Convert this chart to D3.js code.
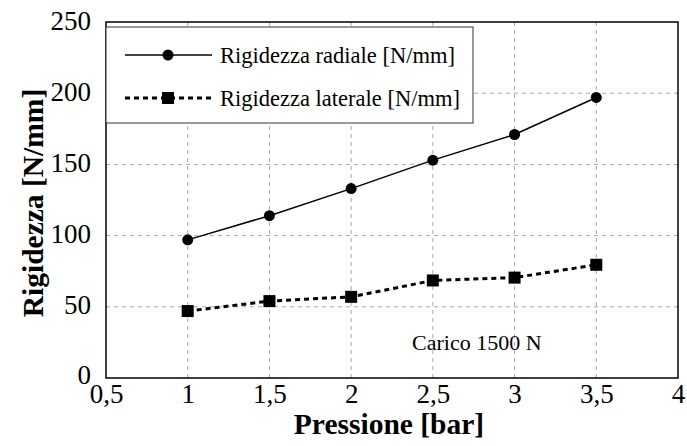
<!DOCTYPE html>
<html>
<head>
<meta charset="utf-8">
<script src="https://cdn.jsdelivr.net/npm/d3@7"></script>
<style>
  html, body { margin: 0; padding: 0; background: #fff; }
  svg { display: block; }
  svg text { font-family: "Liberation Serif", "Tinos", "Times New Roman", Times, "DejaVu Serif", serif !important; fill: #000; }
</style>
</head>
<body>
<svg id="chart" width="687" height="446"></svg>
<script>
// Pressure levels [bar]
const pressures = [1, 1.5, 2, 2.5, 3, 3.5];
// Radial and lateral stiffness [N/mm]
const radialStiffness = [97, 114, 133, 153, 171, 197];
const lateralStiffness = [47, 54, 57, 68.5, 70.5, 79.5];
// Axis ticks
const xTicks = [0.5, 1, 1.5, 2, 2.5, 3, 3.5, 4];
const yTicks = [0, 50, 100, 150, 200, 250];
const seriesNames = ["Rigidezza radiale [N/mm]", "Rigidezza laterale [N/mm]"];

const svg = d3.select("#chart");
const m = { left: 106, right: 678, top: 22, bottom: 378 };

const x = d3.scaleLinear().domain([0.5, 4]).range([m.left, m.right]);
const y = d3.scaleLinear().domain([0, 250]).range([m.bottom, m.top]);
const fmt = d => String(d).replace(".", ",");

// Dashed grid
const grid = svg.append("g").attr("stroke", "#a8a8a8").attr("stroke-width", 1)
  .attr("stroke-dasharray", "4,4");
grid.selectAll(".gx").data(xTicks.filter(t => t > 0.5 && t < 4)).join("line")
  .attr("x1", d => x(d)).attr("x2", d => x(d))
  .attr("y1", m.top).attr("y2", m.bottom);
grid.selectAll(".gy").data(yTicks.filter(t => t > 0 && t < 250)).join("line")
  .attr("x1", m.left).attr("x2", m.right)
  .attr("y1", d => y(d)).attr("y2", d => y(d));

// Axes
const xAxis = svg.append("g").attr("transform", `translate(0,${m.bottom})`)
  .call(d3.axisBottom(x).tickValues(xTicks).tickFormat(fmt).tickSize(0).tickPadding(0));
const yAxis = svg.append("g").attr("transform", `translate(${m.left},0)`)
  .call(d3.axisLeft(y).tickValues(yTicks).tickSize(0).tickPadding(15));
[xAxis, yAxis].forEach(a => {
  a.select(".domain").remove();
  a.selectAll("text").attr("font-size", 27);
});
// baseline positions relative to each tick
yAxis.selectAll(".tick text").attr("dy", null).attr("y", d => (d === 0 ? 5 : 7));
xAxis.selectAll(".tick text").attr("dy", null).attr("y", 25);

// Plot frame
svg.append("rect")
  .attr("x", m.left).attr("y", m.top)
  .attr("width", m.right - m.left).attr("height", m.bottom - m.top)
  .attr("fill", "none").attr("stroke", "#000").attr("stroke-width", 1.5);

// Series
const line = d3.line().x(d => x(d[0])).y(d => y(d[1]));
const radial = pressures.map((p, i) => [p, radialStiffness[i]]);
const lateral = pressures.map((p, i) => [p, lateralStiffness[i]]);

svg.append("path").datum(radial).attr("d", line)
  .attr("fill", "none").attr("stroke", "#000").attr("stroke-width", 1.5);
svg.selectAll(".rad").data(radial).join("circle")
  .attr("cx", d => x(d[0])).attr("cy", d => y(d[1])).attr("r", 5.5).attr("fill", "#000");

svg.append("path").datum(lateral).attr("d", line)
  .attr("fill", "none").attr("stroke", "#000").attr("stroke-width", 3)
  .attr("stroke-dasharray", "5,4");
const sq = 12;
svg.selectAll(".lat").data(lateral).join("rect")
  .attr("x", d => x(d[0]) - sq / 2).attr("y", d => y(d[1]) - sq / 2)
  .attr("width", sq).attr("height", sq).attr("fill", "#000");

// Legend
const lg = svg.append("g");
lg.append("rect").attr("x", m.left).attr("y", 27).attr("width", 367).attr("height", 96)
  .attr("fill", "#fff").attr("stroke", "#333").attr("stroke-width", 1);
const rows = [55, 98];
lg.append("line").attr("x1", 125).attr("x2", 212).attr("y1", rows[0]).attr("y2", rows[0])
  .attr("stroke", "#000").attr("stroke-width", 1.5);
lg.append("circle").attr("cx", 168).attr("cy", rows[0]).attr("r", 5.5).attr("fill", "#000");
lg.append("line").attr("x1", 125).attr("x2", 212).attr("y1", rows[1]).attr("y2", rows[1])
  .attr("stroke", "#000").attr("stroke-width", 3).attr("stroke-dasharray", "5,4");
lg.append("rect").attr("x", 168 - sq / 2).attr("y", rows[1] - sq / 2)
  .attr("width", sq).attr("height", sq).attr("fill", "#000");
lg.selectAll(".lt").data(seriesNames).join("text")
  .attr("x", 220).attr("y", (d, i) => rows[i] + 8)
  .attr("font-size", 22.5).text(d => d);

// Annotation
svg.append("text").attr("x", 412).attr("y", 350).attr("font-size", 22)
  .text("Carico 1500 N");

// Axis titles
svg.append("text").attr("x", 389).attr("y", 434)
  .attr("text-anchor", "middle").attr("font-size", 29.5).attr("font-weight", "bold")
  .text("Pressione [bar]");
svg.append("text").attr("transform", "translate(43,203) rotate(-90)")
  .attr("text-anchor", "middle").attr("font-size", 29.5).attr("font-weight", "bold")
  .text("Rigidezza [N/mm]");
</script>
</body>
</html>
